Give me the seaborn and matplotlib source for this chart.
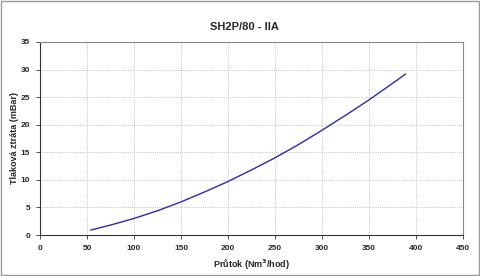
import matplotlib
matplotlib.use("Agg")
import matplotlib.pyplot as plt
import seaborn as sns
import pandas as pd

flow = [54, 75, 100, 125, 150, 175, 200, 225, 250, 275, 300, 325, 350, 375, 389]
loss = [0.9, 1.8, 3.0, 4.4, 6.0, 7.8, 9.7, 11.8, 14.0, 16.4, 19.0, 21.7, 24.5, 27.5, 29.2]
title = "SH2P/80 - IIA"
xlabel = "Průtok (Nm$^\\mathbf{3}$/hod)"
ylabel = "Tlaková ztráta (mBar)"

sns.set_style("white")
plt.rcParams["font.family"] = ["Liberation Sans", "DejaVu Sans"]

df = pd.DataFrame({"flow": flow, "loss": loss})
fig = plt.figure(figsize=(4.8, 2.76), dpi=100)
ax = fig.add_axes([40/480, 1-235/276, 423/480, 193/276])
sns.lineplot(data=df, x="flow", y="loss", ax=ax, color="#2a2ab4", linewidth=1.0)

ax.set_xlim(0, 450)
ax.set_ylim(0, 35)
ax.set_xticks(range(0, 451, 50))
ax.set_yticks(range(0, 36, 5))
ax.grid(True, color="#b0b0b0", linestyle=(0, (1, 1.5)), linewidth=0.6)
for s in ["top", "right"]:
    ax.spines[s].set_color("#888888")
    ax.spines[s].set_linewidth(0.8)
for s in ["left", "bottom"]:
    ax.spines[s].set_color("#333333")
    ax.spines[s].set_linewidth(0.8)
ax.tick_params(axis="both", which="major", length=3, width=0.6, color="#333333",
               labelsize=6, pad=4, bottom=True, left=True)
for lab in ax.get_xticklabels() + ax.get_yticklabels():
    lab.set_fontweight("bold")
ax.set_xlabel(xlabel, fontsize=6.5, fontweight="bold", labelpad=4)
ax.set_ylabel(ylabel, fontsize=6.5, fontweight="bold", labelpad=1)
fig.text(244/480, 1-27/276, title, ha="center", va="center", fontsize=8, fontweight="bold")

fig.patches.append(plt.Rectangle((0.003, 0.005), 0.994, 0.99, transform=fig.transFigure,
                                 fill=False, edgecolor="#999999", linewidth=1.0))
fig.savefig("out.png", dpi=100)
